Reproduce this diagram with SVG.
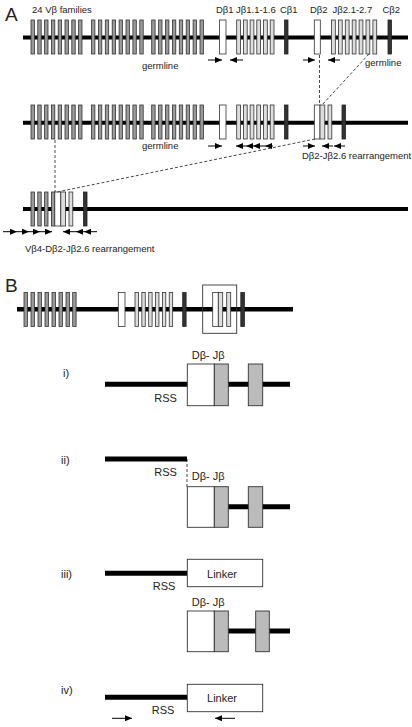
<svg xmlns="http://www.w3.org/2000/svg" width="412" height="727" viewBox="0 0 412 727">
<style>
text{font-family:"Liberation Sans",Arial,sans-serif;fill:#222}
.lab{font-size:9.5px}
.labB{font-size:11px}
.big{font-size:19px}
.dna{stroke:#000;stroke-width:4}
.dnaB{stroke:#000;stroke-width:5}
.v{fill:#999;stroke:#333;stroke-width:0.8}
.j{fill:#ddd;stroke:#333;stroke-width:0.8}
.d{fill:#fff;stroke:#333;stroke-width:0.8}
.c{fill:#333;stroke:#222;stroke-width:0.8}
.g{fill:#bbb;stroke:#333;stroke-width:0.9}
.w{fill:#fff;stroke:#333;stroke-width:0.9}
.dash{stroke:#333;stroke-width:0.9;stroke-dasharray:3,2;fill:none}
.arr{stroke:#000;stroke-width:1;fill:none;marker-end:url(#ah)}
</style>
<defs>
<marker id="ah" markerUnits="userSpaceOnUse" markerWidth="7" markerHeight="6" refX="7" refY="3" orient="auto">
<path d="M0,0 L7,3 L0,6 z" fill="#000"/>
</marker>
<g id="vgroupA">
<rect class="v" x="31" y="0" width="3.4" height="34"/><rect class="v" x="37.8" y="0" width="3.4" height="34"/><rect class="v" x="44.6" y="0" width="3.4" height="34"/><rect class="v" x="51.4" y="0" width="3.4" height="34"/><rect class="v" x="58.2" y="0" width="3.4" height="34"/><rect class="v" x="65" y="0" width="3.4" height="34"/><rect class="v" x="71.8" y="0" width="3.4" height="34"/><rect class="v" x="78.6" y="0" width="3.4" height="34"/>
<rect class="v" x="91.5" y="0" width="3.4" height="34"/><rect class="v" x="98.4" y="0" width="3.4" height="34"/><rect class="v" x="105.3" y="0" width="3.4" height="34"/><rect class="v" x="112.2" y="0" width="3.4" height="34"/><rect class="v" x="119.1" y="0" width="3.4" height="34"/><rect class="v" x="126" y="0" width="3.4" height="34"/><rect class="v" x="132.9" y="0" width="3.4" height="34"/><rect class="v" x="139.8" y="0" width="3.4" height="34"/>
<rect class="v" x="151.7" y="0" width="3.4" height="34"/><rect class="v" x="158.6" y="0" width="3.4" height="34"/><rect class="v" x="165.5" y="0" width="3.4" height="34"/><rect class="v" x="172.4" y="0" width="3.4" height="34"/><rect class="v" x="179.3" y="0" width="3.4" height="34"/><rect class="v" x="186.2" y="0" width="3.4" height="34"/><rect class="v" x="193.1" y="0" width="3.4" height="34"/><rect class="v" x="200" y="0" width="3.4" height="34"/>
<rect class="d" x="219.5" y="0" width="6.5" height="34"/>
<rect class="j" x="236.7" y="0" width="3.8" height="34"/><rect class="j" x="243.4" y="0" width="3.8" height="34"/><rect class="j" x="250.1" y="0" width="3.8" height="34"/><rect class="j" x="256.8" y="0" width="3.8" height="34"/><rect class="j" x="263.5" y="0" width="3.8" height="34"/><rect class="j" x="270.2" y="0" width="3.8" height="34"/>
<rect class="c" x="284.5" y="0" width="3.5" height="34"/>
</g>
</defs>

<text class="big" x="5" y="21">A</text>

<g id="row-germline">
<line class="dna" x1="23" y1="37.5" x2="408" y2="37.5"/>
<use href="#vgroupA" x="0" y="20"/>
<rect class="d" x="314.3" y="20" width="6" height="34"/>
<rect class="j" x="331.5" y="20" width="3.8" height="34"/><rect class="j" x="338.4" y="20" width="3.8" height="34"/><rect class="j" x="345.3" y="20" width="3.8" height="34"/><rect class="j" x="352.2" y="20" width="3.8" height="34"/><rect class="j" x="359.1" y="20" width="3.8" height="34"/><rect class="j" x="366" y="20" width="3.8" height="34"/><rect class="j" x="372.9" y="20" width="3.8" height="34"/>
<rect class="c" x="388" y="20" width="3.5" height="34"/>
<text class="lab" x="32" y="13">24 Vβ families</text>
<text class="lab" x="216" y="12.5">Dβ1</text>
<text class="lab" x="236" y="12.5">Jβ1.1-1.6</text>
<text class="lab" x="280" y="12.5">Cβ1</text>
<text class="lab" x="310" y="12.5">Dβ2</text>
<text class="lab" x="332.5" y="12.5">Jβ2.1-2.7</text>
<text class="lab" x="382.5" y="12.5">Cβ2</text>
<text class="lab" x="142" y="68.5">germline</text>
<text class="lab" x="365" y="65.5">germline</text>
</g>

<g id="row-DJ">
<line class="dna" x1="23" y1="122.7" x2="408" y2="122.7"/>
<use href="#vgroupA" x="0" y="105"/>
<rect class="d" x="314.3" y="105" width="5.7" height="34"/>
<rect class="j" x="320" y="105" width="4.8" height="34"/>
<rect class="j" x="328" y="105" width="3.8" height="34"/>
<rect class="c" x="342" y="105" width="3.5" height="34"/>
<text class="lab" x="142" y="149">germline</text>
<text class="lab" x="302" y="159">Dβ2-Jβ2.6 rearrangement</text>
</g>

<g id="row-VDJ">
<line class="dna" x1="23" y1="209" x2="408" y2="209"/>
<rect class="v" x="31" y="192" width="3.4" height="34"/><rect class="v" x="37.8" y="192" width="3.4" height="34"/><rect class="v" x="44.6" y="192" width="3.4" height="34"/><rect class="v" x="51.4" y="192" width="3.4" height="34"/>
<rect class="d" x="54.8" y="192" width="6" height="34"/>
<rect class="j" x="60.8" y="192" width="4.8" height="34"/>
<rect class="j" x="69" y="192" width="3.8" height="34"/>
<rect class="c" x="83.5" y="192" width="3.5" height="34"/>
<text class="lab" x="25" y="251.5">Vβ4-Dβ2-Jβ2.6 rearrangement</text>
</g>

<g id="connectors">
<line class="dash" x1="319.5" y1="55" x2="319.5" y2="105"/>
<line class="dash" x1="369" y1="54" x2="322" y2="105"/>
<line class="dash" x1="55" y1="140" x2="55" y2="192"/>
<line class="dash" x1="315" y1="139" x2="57" y2="192"/>
<line class="dash" x1="187" y1="459" x2="187" y2="487"/>
<line class="arr" x1="208" y1="60" x2="222" y2="60"/>
<line class="arr" x1="243" y1="60" x2="230" y2="60"/>
<line class="arr" x1="303" y1="60" x2="315" y2="60"/>
<line class="arr" x1="340" y1="60" x2="328" y2="60"/>
<line class="arr" x1="208" y1="146" x2="222" y2="146"/>
<line class="arr" x1="246" y1="146" x2="236" y2="146"/>
<line class="arr" x1="253" y1="146" x2="246" y2="146"/>
<line class="arr" x1="265" y1="146" x2="253" y2="146"/>
<line class="arr" x1="273" y1="146" x2="265" y2="146"/>
<line class="arr" x1="303" y1="146" x2="315" y2="146"/>
<line class="arr" x1="333" y1="146" x2="322" y2="146"/>
<line class="arr" x1="345" y1="146" x2="334" y2="146"/>
<line class="arr" x1="3" y1="231.7" x2="17" y2="231.7"/>
<line class="arr" x1="17" y1="231.7" x2="29" y2="231.7"/>
<line class="arr" x1="29" y1="231.7" x2="40" y2="231.7"/>
<line class="arr" x1="40" y1="231.7" x2="52" y2="231.7"/>
<line class="arr" x1="76" y1="231.7" x2="63" y2="231.7"/>
<line class="arr" x1="84" y1="231.7" x2="76" y2="231.7"/>
<line class="arr" x1="97" y1="231.7" x2="84" y2="231.7"/>
<line class="arr" x1="112" y1="718.3" x2="132" y2="718.3"/>
<line class="arr" x1="235" y1="718.3" x2="215" y2="718.3"/>
</g>

<text class="big" x="5" y="292">B</text>

<g id="locus-B">
<line class="dna" x1="17" y1="309.3" x2="293" y2="309.3" style="stroke-width:4.5"/>
<rect class="v" x="24" y="292.5" width="3.4" height="34"/><rect class="v" x="31" y="292.5" width="3.4" height="34"/><rect class="v" x="38" y="292.5" width="3.4" height="34"/><rect class="v" x="45" y="292.5" width="3.4" height="34"/><rect class="v" x="52" y="292.5" width="3.4" height="34"/><rect class="v" x="59" y="292.5" width="3.4" height="34"/><rect class="v" x="66" y="292.5" width="3.4" height="34"/><rect class="v" x="72.7" y="292.5" width="3.4" height="34"/>
<rect class="d" x="118.3" y="292.5" width="6.7" height="34"/>
<rect class="j" x="135" y="292.5" width="3.4" height="34"/><rect class="j" x="141.85" y="292.5" width="3.4" height="34"/><rect class="j" x="148.7" y="292.5" width="3.4" height="34"/><rect class="j" x="155.55" y="292.5" width="3.4" height="34"/><rect class="j" x="162.4" y="292.5" width="3.4" height="34"/><rect class="j" x="169.25" y="292.5" width="3.4" height="34"/>
<rect class="c" x="182.7" y="292.5" width="3.4" height="34"/>
<rect x="202.7" y="285" width="34" height="48.3" fill="none" stroke="#333" stroke-width="0.9"/>
<rect class="d" x="212.7" y="292.5" width="5.6" height="34"/>
<rect class="j" x="218.3" y="292.5" width="4.4" height="34"/>
<rect class="j" x="226.7" y="292.5" width="4" height="34"/>
<rect class="c" x="240.8" y="292.5" width="3.6" height="34"/>
</g>

<g id="step-i">
<text class="labB" x="63" y="377">i)</text>
<line class="dnaB" x1="105" y1="384.3" x2="290" y2="384.3"/>
<rect class="w" x="187.3" y="364" width="27" height="41.7"/>
<rect class="g" x="214.3" y="364" width="14" height="41.7"/>
<rect class="g" x="248.3" y="364" width="14.4" height="41.7"/>
<text class="labB" x="191.7" y="358.5">Dβ- Jβ</text>
<text class="labB" x="154.3" y="402">RSS</text>
</g>

<g id="step-ii">
<text class="labB" x="61" y="464">ii)</text>
<line class="dnaB" x1="105" y1="459" x2="187" y2="459"/>
<line class="dnaB" x1="228" y1="506.7" x2="290" y2="506.7"/>
<rect class="w" x="187.3" y="486.7" width="27" height="40.6"/>
<rect class="g" x="214.3" y="486.7" width="14" height="40.6"/>
<rect class="g" x="248.3" y="486.7" width="14.4" height="40.6"/>
<text class="labB" x="154.3" y="475.5">RSS</text>
<text class="labB" x="191.7" y="480">Dβ- Jβ</text>
</g>

<g id="step-iii">
<text class="labB" x="61" y="578">iii)</text>
<line class="dnaB" x1="105" y1="573.3" x2="187" y2="573.3"/>
<rect class="w" x="187.3" y="559.3" width="75.4" height="27.4"/>
<text class="labB" x="222" y="577.5" text-anchor="middle">Linker</text>
<text class="labB" x="152.7" y="590">RSS</text>
<text class="labB" x="191.7" y="606">Dβ- Jβ</text>
<line class="dnaB" x1="228" y1="631" x2="290" y2="631"/>
<rect class="w" x="187.3" y="611" width="27" height="40.7"/>
<rect class="g" x="214.3" y="611" width="14" height="40.7"/>
<rect class="g" x="255.7" y="611" width="13.6" height="40.7"/>
</g>

<g id="step-iv">
<text class="labB" x="61" y="694">iv)</text>
<line class="dnaB" x1="105" y1="697.3" x2="187" y2="697.3"/>
<rect class="w" x="187.3" y="684.3" width="75.4" height="27.4"/>
<text class="labB" x="222" y="701.7" text-anchor="middle">Linker</text>
<text class="labB" x="151.7" y="714">RSS</text>
</g>
</svg>
